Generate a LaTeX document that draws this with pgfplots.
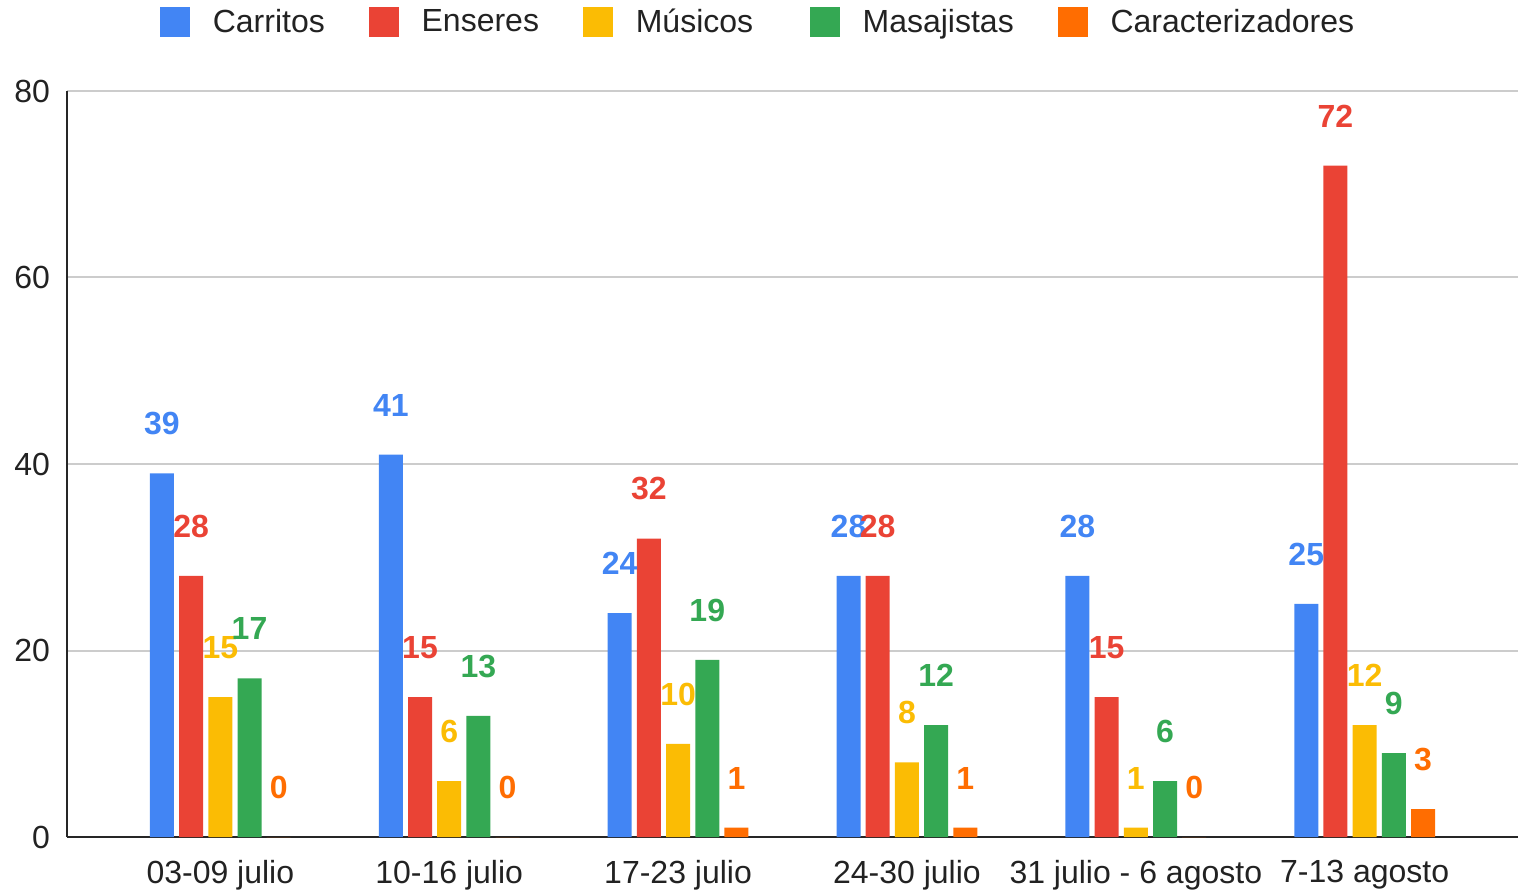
\documentclass[border=0pt]{standalone}
\usepackage{fontspec}
\setmainfont{Liberation Sans}
\usepackage{pgfplots}
\pgfplotsset{compat=1.18}
\definecolor{cBlue}{HTML}{4285F4}
\definecolor{cRed}{HTML}{EA4335}
\definecolor{cYellow}{HTML}{FBBC04}
\definecolor{cGreen}{HTML}{34A853}
\definecolor{cOrange}{HTML}{FF6D01}
\definecolor{cText}{HTML}{222222}
\newcommand{\chartfont}{\fontsize{16}{19}\selectfont}
\pgfplotsset{
  sqlegend/.style={legend image code/.code={\fill[##1,draw=none] (0pt,-7.5pt) rectangle (15pt,7.5pt);}},
  ser/.style={fill=#1, draw=none, sqlegend, every node near coord/.append style={text=#1}},
}
\begin{document}
\begin{tikzpicture}
\begin{axis}[
  name=ax,
  width=725.5pt, height=373pt, scale only axis,
  xmin=-0.67, xmax=5.67, ymin=0, ymax=80,
  xtick={0,1,2,3,4,5},
  xticklabels={03-09 julio, 10-16 julio, 17-23 julio, 24-30 julio, 31 julio - 6 agosto, 7-13 agosto},
  ytick={0,20,40,60,80},
  ymajorgrids, grid style={line width=1pt, color=black!20},
  axis x line*=bottom, axis y line*=left,
  axis line style={line width=1pt, color=black!85, -},
  major tick length=0pt,
  tick label style={font=\chartfont, text=cText},
  /pgf/number format/assume math mode=true,
  yticklabel style={xshift=-5pt},
  xticklabel style={yshift=-8.2pt},
  ybar=2.6pt, bar width=12pt,
  nodes near coords,
  every node near coord/.append style={anchor=center, yshift=24.8pt, font=\chartfont\bfseries},
  legend columns=-1,
  legend style={draw=none, fill=none, at={(0.0641,1.0925)}, anchor=west, font=\chartfont, text=cText, inner sep=0pt,
    /tikz/every odd column/.append style={column sep=9.2pt},
    /tikz/every even column/.append style={column sep=20.2pt}},
]
\addplot[ser=cBlue] coordinates {(0,39) (1,41) (2,24) (3,28) (4,28) (5,25)};
\addplot[ser=cRed] coordinates {(0,28) (1,15) (2,32) (3,28) (4,15) (5,72)};
\addplot[ser=cYellow] coordinates {(0,15) (1,6) (2,10) (3,8) (4,1) (5,12)};
\addplot[ser=cGreen] coordinates {(0,17) (1,13) (2,19) (3,12) (4,6) (5,9)};
\addplot[ser=cOrange] coordinates {(0,0) (1,0) (2,1) (3,1) (4,0) (5,3)};
\legend{Carritos, Enseres, \makebox[65pt][l]{Músicos}, Masajistas, Caracterizadores}
\end{axis}
\pgfresetboundingbox
\path ([xshift=-33.5pt,yshift=-28.5pt]ax.south west) rectangle ([xshift=3pt,yshift=45.5pt]ax.north east);
\end{tikzpicture}
\end{document}
